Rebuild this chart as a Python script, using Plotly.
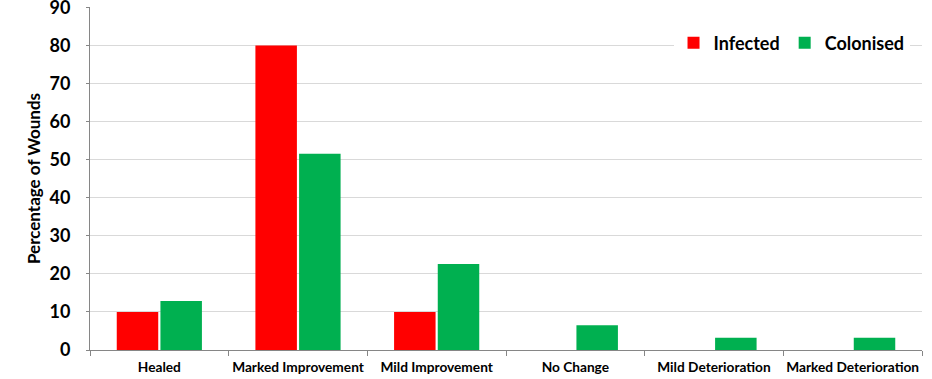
import plotly.graph_objects as go

categories = ["Healed", "Marked Improvement", "Mild Improvement", "No Change",
              "Mild Deterioration", "Marked Deterioration"]
infected = [10, 80, 10, 0, 0, 0]
colonised = [12.9, 51.6, 22.6, 6.5, 3.2, 3.2]
y_ticks = [0, 10, 20, 30, 40, 50, 60, 70, 80, 90]

FONT = "Lato, 'Open Sans', sans-serif"

fig = go.Figure()
fig.add_trace(go.Bar(name="Infected", x=categories, y=infected,
                     marker=dict(color="#ff0000", line=dict(width=0))))
fig.add_trace(go.Bar(name="Colonised", x=categories, y=colonised,
                     marker=dict(color="#00b050", line=dict(width=0))))

fig.update_layout(
    width=932, height=379,
    margin=dict(l=90, r=10, t=7, b=29, autoexpand=False),
    paper_bgcolor="white", plot_bgcolor="white",
    barmode="group", bargap=0.37, bargroupgap=0.05,
    font=dict(family=FONT, color="#000000"),
    showlegend=True,
    legend=dict(orientation="h", x=0.985, xanchor="right", y=0.895, yanchor="middle",
                bgcolor="white", font=dict(size=18, family=FONT, weight="bold"),
                itemsizing="constant", traceorder="normal",
                itemwidth=30, entrywidthmode="pixels"),
)
fig.update_xaxes(
    type="category", showline=True, linecolor="#868686", linewidth=1,
    ticks="outside", tickson="boundaries", ticklen=5, tickcolor="#868686",
    tickfont=dict(size=13.7, family=FONT, weight="bold"), tickangle=0,
    ticklabelstandoff=5,
    showgrid=False, automargin=False,
)
fig.update_yaxes(
    range=[0, 90.15], tickvals=y_ticks, showline=True, linecolor="#868686", linewidth=1,
    ticks="outside", ticklen=3, tickcolor="#868686", ticklabelstandoff=12,
    ticklabeloverflow="allow",
    showgrid=True, gridcolor="#d9d9d9", gridwidth=1,
    tickfont=dict(size=18, family=FONT, weight="bold"),
    title=dict(text="Percentage of Wounds", font=dict(size=17, family=FONT, weight="bold"),
               standoff=4),
    zeroline=False, automargin=False,
)
fig.write_html("out.html")
